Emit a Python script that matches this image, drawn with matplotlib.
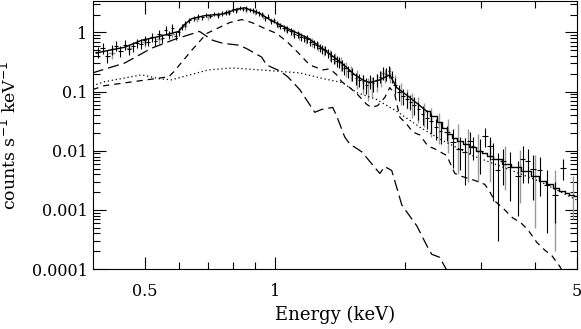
import numpy as np
import matplotlib.pyplot as plt
from matplotlib.ticker import FixedLocator, FixedFormatter, LogLocator, NullFormatter

# total model (fine bins below ~2.3 keV, coarse steps above)
model_e = [0.387, 0.404, 0.45, 0.492, 0.542, 0.60, 0.619, 0.643, 0.689, 0.766, 0.808, 0.852,
           0.918, 0.984, 1.095, 1.198, 1.305, 1.429, 1.532, 1.598, 1.659, 1.75, 1.846, 1.915,
           2.054, 2.249]
model_y = [0.447, 0.482, 0.562, 0.736, 0.858, 1.04, 1.36, 1.71, 1.92, 2.07, 2.42, 2.61,
           2.15, 1.58, 1.08, 0.794, 0.50, 0.304, 0.192, 0.158, 0.141, 0.158, 0.192, 0.117,
           0.0794, 0.0464]
model_hi_e = [2.249, 2.33, 2.41, 2.47, 2.54, 2.61, 2.68, 2.77, 2.87, 2.98, 3.06, 3.14, 3.27,
              3.44, 3.6, 3.83, 4.0, 4.17, 4.33, 4.49, 4.62, 4.74, 4.87, 5.0]
model_hi_y = [0.0464, 0.038, 0.0304, 0.024, 0.0192, 0.0165, 0.0147, 0.013, 0.0117, 0.0100,
              0.0092, 0.0083, 0.0072, 0.00607, 0.0053, 0.00447, 0.0037, 0.00304, 0.0027,
              0.00233, 0.0021, 0.00192, 0.0018, 0.00171]

# cool component (long dashes)
cool_e = [0.379, 0.45, 0.519, 0.587, 0.67, 0.719, 0.758, 0.83, 0.866, 0.933, 0.958, 1.027,
          1.072, 1.143, 1.238, 1.285, 1.362, 1.392, 1.452, 1.491, 1.59, 1.75, 1.797, 1.865,
          1.968, 2.131, 2.259, 2.308, 2.41, 2.47, 2.6]
cool_y = [0.207, 0.304, 0.541, 0.764, 1.04, 0.736, 0.656, 0.607, 0.521, 0.383, 0.282, 0.224,
          0.178, 0.108, 0.0447, 0.050, 0.054, 0.0383, 0.0171, 0.0131, 0.0096, 0.00414, 0.0054,
          0.00464, 0.00121, 0.00054, 0.000233, 0.000178, 0.000158, 0.000112, 0.00006]

# hot component (short dashes)
hot_e = [0.379, 0.404, 0.569, 0.584, 0.643, 0.696, 0.787, 0.839, 0.885, 0.948, 1.011, 1.072,
         1.13, 1.205, 1.291, 1.341, 1.392, 1.429, 1.491, 1.548, 1.633, 1.676, 1.73, 1.797,
         1.846, 1.896, 1.947, 2.02, 2.087, 2.166, 2.259, 2.344, 2.50, 2.61, 2.71, 2.90, 3.06,
         3.14, 3.23, 3.37, 3.55, 3.71, 3.85, 4.04, 4.22, 4.37, 4.56, 4.8]
hot_y = [0.108, 0.126, 0.178, 0.215, 0.50, 0.96, 1.47, 1.65, 1.47, 1.17, 0.96, 0.68,
         0.464, 0.282, 0.233, 0.242, 0.192, 0.147, 0.117, 0.0926, 0.0607, 0.054, 0.058, 0.0794,
         0.117, 0.089, 0.0369, 0.0282, 0.0207, 0.0185, 0.0121, 0.0108, 0.0083, 0.00414, 0.00369,
         0.00316, 0.00271, 0.00207, 0.00141, 0.00108, 0.000736, 0.000607, 0.000464, 0.000282,
         0.000207, 0.000171, 0.000112, 0.00006]

# continuum component (dotted)
pl_e = [0.379, 0.404, 0.492, 0.542, 0.577, 0.703, 0.80, 0.923, 1.143, 1.271, 1.437, 1.548,
        1.721, 1.915, 2.166, 2.41, 2.87, 3.44, 4.10, 4.74, 5.0]
pl_y = [0.126, 0.147, 0.192, 0.165, 0.158, 0.233, 0.251, 0.233, 0.207, 0.171, 0.141, 0.0962,
        0.0736, 0.0464, 0.0251, 0.0158, 0.00826, 0.00501, 0.00304, 0.00178, 0.00147]

# data set 1 (black)
d1_e = [0.39, 0.40, 0.41, 0.42, 0.43, 0.44, 0.45, 0.46, 0.47, 0.48, 0.49, 0.50, 0.51, 0.52,
        0.53, 0.54, 0.55, 0.56, 0.57, 0.58, 0.59, 0.60, 0.61, 0.62, 0.635, 0.65, 0.665, 0.68,
        0.695, 0.71, 0.725, 0.74, 0.755, 0.77, 0.785, 0.80, 0.815, 0.83, 0.845, 0.86, 0.875,
        0.89, 0.905, 0.92, 0.935, 0.95, 0.965, 0.98, 0.995, 1.01, 1.03, 1.05, 1.07, 1.09, 1.11,
        1.13, 1.15, 1.17, 1.19, 1.21, 1.23, 1.25, 1.27, 1.29, 1.31, 1.33, 1.35, 1.37, 1.39, 1.41,
        1.43, 1.45, 1.48, 1.51, 1.54, 1.57, 1.60, 1.63, 1.66, 1.69, 1.72, 1.75, 1.78, 1.81, 1.84,
        1.87, 1.90, 1.94, 1.98, 2.02, 2.06, 2.10, 2.15, 2.20, 2.25, 2.30, 2.36, 2.42, 2.50, 2.58,
        2.68, 2.75, 2.83, 2.87, 2.98, 3.06, 3.14, 3.19, 3.28, 3.37, 3.50, 3.65, 3.75, 3.85, 3.96,
        4.10, 4.26, 4.45, 4.64]
d1_y = [0.47, 0.55, 0.40, 0.52, 0.60, 0.49, 0.62, 0.52, 0.58, 0.66, 0.64, 0.75, 0.70, 0.84,
        0.72, 0.93, 0.80, 1.10, 0.90, 1.20, 0.88, 1.02, 1.25, 1.40, 1.60, 1.72, 1.85, 1.82,
        1.98, 1.90, 2.05, 1.95, 2.10, 2.20, 2.15, 2.45, 2.35, 2.60, 2.50, 2.55, 2.40,
        2.35, 2.25, 2.10, 2.00, 1.75, 1.85, 1.55, 1.60, 1.40, 1.30, 1.20, 1.12, 1.05, 0.95,
        0.92, 0.85, 0.80, 0.78, 0.70, 0.65, 0.62, 0.55, 0.52, 0.50, 0.45, 0.40, 0.36, 0.33, 0.32,
        0.28, 0.25, 0.22, 0.20, 0.17, 0.16, 0.15, 0.13, 0.15, 0.14, 0.16, 0.18, 0.21, 0.20, 0.22,
        0.18, 0.13, 0.10, 0.085, 0.075, 0.068, 0.060, 0.050, 0.042, 0.036, 0.032, 0.025, 0.022,
        0.0207, 0.0141, 0.0108, 0.0096, 0.0147, 0.0121, 0.0100, 0.0178, 0.0121, 0.0074, 0.0047,
        0.0066, 0.0054, 0.0038, 0.0074, 0.0068, 0.0050, 0.0047, 0.0026, 0.0018, 0.0052]
d1_err = [0.10, 0.12, 0.10, 0.10, 0.12, 0.10, 0.12, 0.10, 0.11, 0.12, 0.12, 0.13, 0.12, 0.14,
          0.12, 0.15, 0.13, 0.18, 0.14, 0.18, 0.14, 0.15, 0.16, 0.16, 0.17, 0.17, 0.18, 0.18,
          0.18, 0.18, 0.19, 0.18, 0.19, 0.20, 0.20, 0.22, 0.21, 0.22, 0.22, 0.22, 0.21,
          0.21, 0.20, 0.20, 0.19, 0.18, 0.18, 0.16, 0.16, 0.15, 0.15, 0.14, 0.14, 0.13, 0.13,
          0.12, 0.12, 0.11, 0.11, 0.10, 0.10, 0.10, 0.09, 0.09, 0.09, 0.08, 0.08, 0.07, 0.07, 0.07,
          0.06, 0.06, 0.05, 0.05, 0.04, 0.04, 0.04, 0.04, 0.04, 0.04, 0.04, 0.04, 0.05, 0.05, 0.05,
          0.04, 0.04, 0.03, 0.025, 0.022, 0.02, 0.02, 0.017, 0.015, 0.013, 0.012, 0.010, 0.009,
          0.006, 0.009, 0.006, 0.007, 0.006, 0.005, 0.006, 0.006, 0.005, 0.006, 0.0044,
          0.004, 0.004, 0.003, 0.0045, 0.004, 0.0035, 0.003, 0.0022, 0.0012, 0.002]
d1_xerr = [0.005] * 50 + [0.01] * 36 + [0.02] * 12 + [0.04, 0.04, 0.05, 0.04, 0.04, 0.02, 0.05,
                                                     0.05, 0.05, 0.03, 0.04, 0.05, 0.06, 0.06,
                                                     0.05, 0.05, 0.06, 0.06, 0.07, 0.08, 0.08]

# data set 2 (grey)
d2_e = [0.42, 0.46, 0.50, 0.54, 0.58, 0.62, 0.66, 0.70, 0.74, 0.78, 0.82, 0.86, 0.90, 0.94,
        0.98, 1.02, 1.06, 1.10, 1.14, 1.18, 1.22, 1.26, 1.30, 1.34, 1.38, 1.42, 1.46, 1.50,
        1.55, 1.60, 1.64, 1.68, 1.72, 1.76, 1.80, 1.85, 1.90, 1.96, 2.02, 2.08, 2.14, 2.22,
        2.30, 2.40, 2.52, 2.65, 2.80, 2.95, 3.15, 3.40, 3.70, 4.00, 4.45, 4.90]
d2_y = [0.45, 0.55, 0.68, 0.78, 0.95, 1.30, 1.70, 1.85, 2.00, 2.25, 2.45, 2.40, 2.20, 1.90,
        1.60, 1.35, 1.15, 1.00, 0.88, 0.75, 0.68, 0.58, 0.50, 0.42, 0.37, 0.30, 0.25, 0.21,
        0.17, 0.14, 0.12, 0.13, 0.15, 0.17, 0.19, 0.20, 0.14, 0.10, 0.080, 0.066, 0.055, 0.045,
        0.035, 0.028, 0.022, 0.016, 0.013, 0.011, 0.0090, 0.0072, 0.0058, 0.0045, 0.0025, 0.0022]
d2_err = [0.09, 0.10, 0.12, 0.13, 0.15, 0.18, 0.20, 0.20, 0.20, 0.22, 0.24, 0.24, 0.22, 0.20,
          0.18, 0.16, 0.15, 0.14, 0.13, 0.12, 0.11, 0.10, 0.10, 0.09, 0.08, 0.08, 0.07, 0.06,
          0.06, 0.05, 0.05, 0.05, 0.05, 0.05, 0.05, 0.06, 0.05, 0.04, 0.03, 0.03, 0.025, 0.02,
          0.018, 0.015, 0.013, 0.012, 0.010, 0.008, 0.006, 0.005, 0.0045, 0.004, 0.0023, 0.0015]

plt.rcParams['font.family'] = 'DejaVu Serif'

fig = plt.figure(figsize=(5.81, 3.29), dpi=100)
ax = fig.add_axes([0.160, 0.182, 0.833, 0.815])

ax.errorbar(d2_e, d2_y, yerr=d2_err, xerr=0.008, fmt='none', ecolor='#9a9a9a', elinewidth=1.0,
            capsize=0)
ax.errorbar(d1_e, d1_y, yerr=d1_err, xerr=d1_xerr, fmt='none', ecolor='black', elinewidth=0.8,
            capsize=0)
ax.plot(model_e, model_y, color='black', lw=1.0)
ax.plot(model_hi_e, model_hi_y, color='black', lw=1.0, drawstyle='steps-mid')
ax.plot(cool_e, cool_y, color='black', lw=0.9, dashes=(9, 4))
ax.plot(hot_e, hot_y, color='black', lw=0.9, dashes=(5, 4))
ax.plot(pl_e, pl_y, color='black', lw=0.9, dashes=(1, 2.2))

ax.set_xscale('log')
ax.set_yscale('log')
ax.set_xlim(0.38, 5.0)
ax.set_ylim(1e-4, 3.4)

ax.xaxis.set_major_locator(FixedLocator([0.5, 1, 5]))
ax.xaxis.set_major_formatter(FixedFormatter(['0.5', '1', '5']))
ax.xaxis.set_minor_locator(FixedLocator([0.6, 0.7, 0.8, 0.9, 2, 3, 4]))
ax.xaxis.set_minor_formatter(NullFormatter())
ax.yaxis.set_major_locator(FixedLocator([1e-4, 1e-3, 1e-2, 0.1, 1]))
ax.yaxis.set_major_formatter(FixedFormatter(['0.0001', '0.001', '0.01', '0.1', '1']))
ax.yaxis.set_minor_locator(LogLocator(base=10, subs=np.arange(2, 10), numticks=20))
ax.yaxis.set_minor_formatter(NullFormatter())

ax.tick_params(which='both', direction='in', top=True, right=True, width=0.8, labelsize=11.5)
ax.tick_params(which='major', length=9)
ax.tick_params(which='minor', length=5)
ax.tick_params(axis='x', which='major', pad=10)
ax.tick_params(axis='y', which='major', pad=4)
for s in ax.spines.values():
    s.set_linewidth(0.8)

ax.set_xlabel('Energy (keV)', fontsize=13, labelpad=4)
ax.set_ylabel('counts s$^{-1}$ keV$^{-1}$', fontsize=12.5, labelpad=8)

fig.savefig('out.png', dpi=100)
